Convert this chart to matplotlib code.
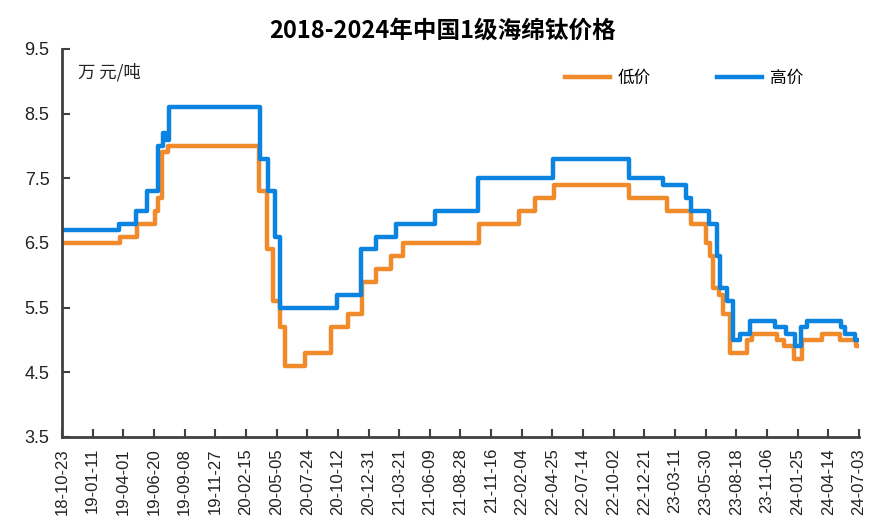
import pandas as pd
import matplotlib
matplotlib.use("Agg")
import matplotlib.pyplot as plt
import matplotlib.dates as mdates

plt.rcParams["font.family"] = ["Liberation Sans", "Noto Sans CJK SC"]

# Step changes of China grade-1 titanium sponge price (10k yuan / ton)
low_dates = [
    "2018-10-23", "2019-03-23", "2019-05-07", "2019-06-23", "2019-07-01",
    "2019-07-11", "2019-07-27", "2020-03-20", "2020-04-10", "2020-04-26",
    "2020-05-14", "2020-05-27", "2020-07-18", "2020-09-24", "2020-11-07",
    "2020-12-14", "2021-01-20", "2021-02-28", "2021-03-31", "2021-10-15",
    "2022-01-28", "2022-03-11", "2022-04-29", "2022-11-11", "2023-02-18",
    "2023-04-22", "2023-05-31", "2023-06-10", "2023-06-18", "2023-07-04",
    "2023-07-14", "2023-08-01", "2023-09-15", "2023-09-28", "2023-12-02",
    "2023-12-20", "2024-01-16", "2024-02-05", "2024-03-29", "2024-05-15",
    "2024-06-25", "2024-07-01",
]
low_values = [
    6.5, 6.6, 6.8, 7.0, 7.2,
    7.9, 8.0, 7.3, 6.4, 5.6,
    5.2, 4.6, 4.8, 5.2, 5.4,
    5.9, 6.1, 6.3, 6.5, 6.8,
    7.0, 7.2, 7.4, 7.2, 7.0,
    6.8, 6.5, 6.3, 5.8, 5.7,
    5.4, 4.8, 5.0, 5.1, 5.0,
    4.9, 4.7, 5.0, 5.1, 5.0,
    4.9, 4.9,
]

high_dates = [
    "2018-10-23", "2019-03-21", "2019-05-04", "2019-06-02", "2019-06-30",
    "2019-07-14", "2019-07-22", "2019-07-30", "2020-03-23", "2020-04-13",
    "2020-05-01", "2020-05-14", "2020-10-10", "2020-12-11", "2021-01-20",
    "2021-03-13", "2021-06-23", "2021-10-13", "2022-04-27", "2022-11-11",
    "2023-02-08", "2023-04-09", "2023-04-22", "2023-06-08", "2023-06-29",
    "2023-07-06", "2023-07-25", "2023-08-09", "2023-08-28", "2023-09-23",
    "2023-11-27", "2023-12-26", "2024-01-18", "2024-02-03", "2024-02-18",
    "2024-05-17", "2024-05-28", "2024-06-23", "2024-07-01",
]
high_values = [
    6.7, 6.8, 7.0, 7.3, 8.0,
    8.2, 8.1, 8.6, 7.8, 7.3,
    6.6, 5.5, 5.7, 6.4, 6.6,
    6.8, 7.0, 7.5, 7.8, 7.5,
    7.4, 7.2, 7.0, 6.8, 6.3,
    5.8, 5.6, 5.0, 5.1, 5.3,
    5.2, 5.1, 4.9, 5.2, 5.3,
    5.2, 5.1, 5.0, 5.0,
]

y_ticks = [3.5, 4.5, 5.5, 6.5, 7.5, 8.5, 9.5]
x_start, x_end = "2018-10-23", "2024-07-03"

low = pd.Series(low_values, index=pd.to_datetime(low_dates))
high = pd.Series(high_values, index=pd.to_datetime(high_dates))

fig = plt.figure(figsize=(8.86, 5.32), dpi=100)
ax = fig.add_axes([0.070, 0.1786, 0.8995, 0.7293])

ax.plot(low.index, low.values, drawstyle="steps-post", color="#F08A2A",
        lw=3.2, label="低价")
ax.plot(high.index, high.values, drawstyle="steps-post", color="#0A84E0",
        lw=3.2, label="高价")

ax.set_xlim(pd.Timestamp(x_start), pd.Timestamp(x_end))
ax.set_ylim(3.5, 9.5)
ax.set_yticks(y_ticks)
ax.set_yticklabels([f"{v:.1f}" for v in y_ticks], fontsize=13, color="#222222")

xticks = pd.date_range(x_start, x_end, freq="80D")
ax.set_xticks(xticks)
ax.xaxis.set_major_formatter(mdates.DateFormatter("%y-%m-%d"))
plt.setp(ax.get_xticklabels(), rotation=90, fontsize=12, color="#222222")

for side in ["top", "right"]:
    ax.spines[side].set_visible(False)
for side in ["left", "bottom"]:
    ax.spines[side].set_color("#404040")
    ax.spines[side].set_linewidth(2)
ax.tick_params(axis="both", direction="in", length=6, width=1.5,
               color="#404040")
ax.tick_params(axis="x", pad=8)
ax.tick_params(axis="y", pad=9)

ax.text(0.02, 0.94, "万 元/吨", transform=ax.transAxes, fontsize=12.5,
        family=["Noto Sans CJK SC"], color="#222222", va="center")

fig.text(0.5, 0.942, "2018-2024年中国1级海绵钛价格", ha="center", va="center",
         fontsize=17, fontweight="bold", family=["Noto Sans CJK SC"])

ax.legend(loc="center left", bbox_to_anchor=(0.631, 0.925), ncol=2,
          frameon=False, prop={"family": ["Noto Sans CJK SC"], "size": 12},
          handlelength=2.7, handletextpad=0.45, columnspacing=4.0,
          borderpad=0, borderaxespad=0)

fig.savefig("out.png", dpi=100)
